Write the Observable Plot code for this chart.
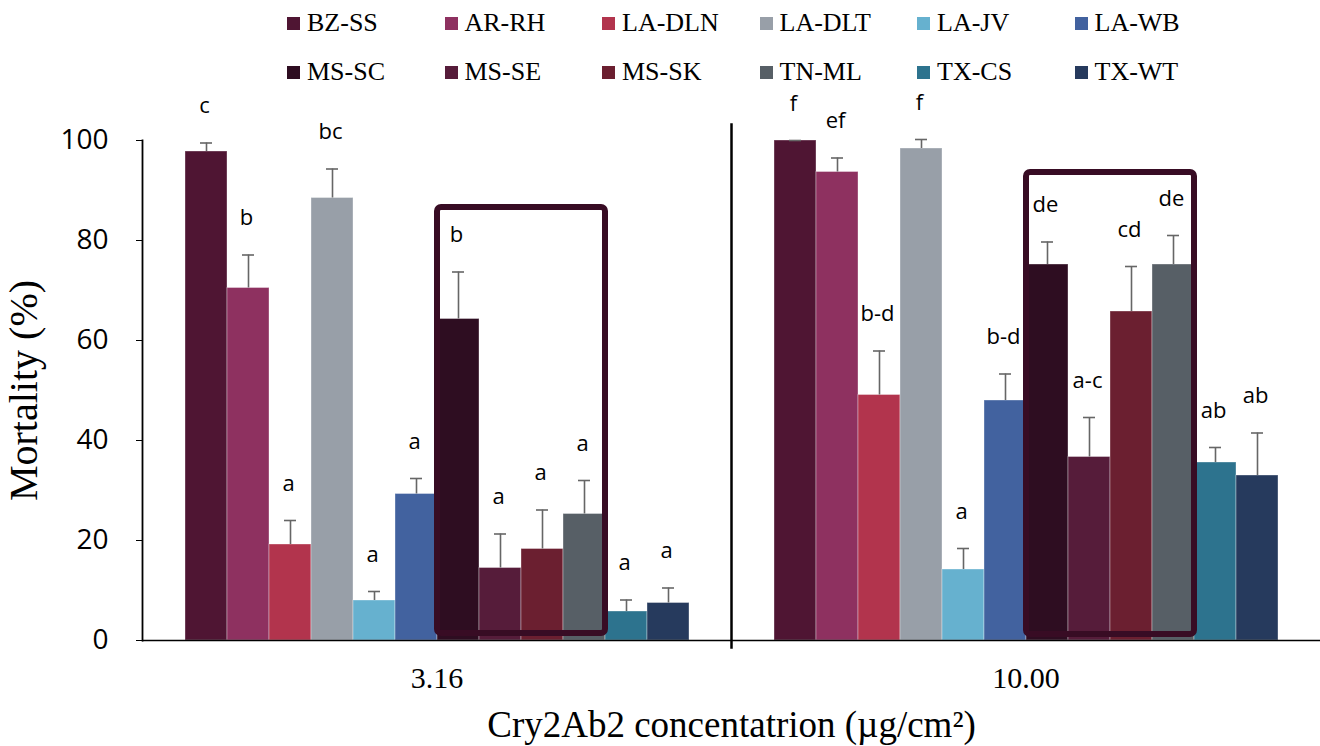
<!DOCTYPE html>
<html>
<head>
<meta charset="utf-8">
<script src="https://cdn.jsdelivr.net/npm/d3@7"></script>
<script src="https://cdn.jsdelivr.net/npm/@observablehq/plot@0.6"></script>
<style>
  html, body { margin: 0; padding: 0; background: #fff; overflow: hidden; }
  #legend { position: relative; width: 1320px; height: 100px; font-family: "Liberation Serif", "Times New Roman", serif; font-size: 26px; color: #000; }
  .item { position: absolute; display: flex; align-items: center; height: 30px; white-space: nowrap; }
  .sw { width: 13px; height: 13px; margin-right: 7px; }
  #chart svg { display: block; }
  g[aria-label="y-axis label"] text { font-family: "Liberation Serif", serif; font-size: 40px; }
  g[aria-label="fx-axis label"] text { font-family: "Liberation Serif", serif; font-size: 37px; }
</style>
</head>
<body>
<div id="legend"></div>
<div id="chart"></div>
<script>
// ---- data ----
const groups = ["3.16", "10.00"];
const series = ["BZ-SS", "AR-RH", "LA-DLN", "LA-DLT", "LA-JV", "LA-WB",
                "MS-SC", "MS-SE", "MS-SK", "TN-ML", "TX-CS", "TX-WT"];
const colors = ["#4f1533", "#8e3160", "#b2344d", "#989fa8", "#66b1cf", "#42629f",
                "#2e0d21", "#561c3a", "#6b1f30", "#575f66", "#2d738e", "#263a5d"];
const mortality316 = [97.8, 70.5, 19.2, 88.5, 8.0, 29.3, 64.3, 14.5, 18.3, 25.3, 5.8, 7.5];
const error316     = [1.7, 6.6, 4.8, 5.8, 1.8, 3.1, 9.4, 6.8, 7.8, 6.7, 2.3, 3.0];
const letters316   = ["c", "b", "a", "bc", "a", "a", "b", "a", "a", "a", "a", "a"];
const mortality1000 = [100, 93.7, 49.1, 98.4, 14.2, 48.0, 75.2, 36.7, 65.8, 75.2, 35.6, 33.0];
const error1000     = [0, 2.8, 8.8, 1.8, 4.2, 5.3, 4.5, 7.9, 9.0, 5.8, 3.0, 8.5];
const letters1000   = ["f", "ef", "b-d", "f", "a", "b-d", "de", "a-c", "cd", "de", "ab", "ab"];
const yTicks = [0, 20, 40, 60, 80, 100];
const highlightFrom = "MS-SC";
const highlightTo = "TN-ML";
const highlightTop = [86.6, 93.6];
const highlightBottom = [1.4, 1.2];
const yLabel = "Mortality (%)";
const xLabel = "Cry2Ab2 concentatrion (µg/cm²)";

// ---- table ----
const values = [mortality316, mortality1000];
const errors = [error316, error1000];
const letters = [letters316, letters1000];
const rows = [];
groups.forEach((g, gi) => series.forEach((s, si) => rows.push({
  g, s, v: values[gi][si], top: values[gi][si] + errors[gi][si], letter: letters[gi][si]
})));
const boxes = groups.map((g, gi) => ({g, from: highlightFrom, to: highlightTo, y1: highlightBottom[gi], y2: highlightTop[gi]}));

// ---- legend ----
const legend = document.getElementById("legend");
series.forEach((s, i) => {
  const col = i % 6, row = Math.floor(i / 6);
  const d = document.createElement("div");
  d.className = "item";
  d.style.left = (287 + col * 157.5) + "px";
  d.style.top = (8 + row * 49) + "px";
  d.innerHTML = `<span class="sw" style="background:${colors[i]}"></span><span>${s}</span>`;
  legend.appendChild(d);
});

// ---- chart ----
const chart = Plot.plot({
  width: 1320,
  height: 646,
  marginTop: 40,
  marginBottom: 106,
  marginLeft: 142,
  marginRight: 0,
  style: {background: "#fff", overflow: "visible"},
  fx: {domain: groups, padding: 0},
  x: {domain: series, paddingInner: 0, paddingOuter: 0.946, axis: null},
  y: {domain: [0, 100]},
  color: {domain: series, range: colors},
  marks: [
    Plot.barY(rows, {fx: "g", x: "s", y: "v", fill: "s", stroke: "#fff", strokeOpacity: 0.35, strokeWidth: 1}),
    Plot.ruleX(rows, {fx: "g", x: "s", y1: "v", y2: "top", stroke: "#666", strokeWidth: 1.6}),
    Plot.tickY(rows, {fx: "g", x: "s", y: "top", stroke: "#666", strokeWidth: 1.6, insetLeft: 15, insetRight: 15}),
    Plot.text(rows, {fx: "g", x: "s", y: "top", text: "letter", dy: -30, dx: -2, lineAnchor: "bottom",
                     fontFamily: "Open Sans", fontSize: 22, fill: "#000"}),
    Plot.rect(boxes, {fx: "g", x1: "from", x2: "to", y1: "y1", y2: "y2", fill: "none",
                      stroke: "#380c24", strokeWidth: 6, rx: 4}),
    Plot.ruleY([0], {stroke: "#000", strokeWidth: 1.5}),
    Plot.frame({anchor: "left", fx: () => "3.16", stroke: "#000", strokeWidth: 1.8}),
    Plot.frame({anchor: "left", fx: () => "10.00", stroke: "#000", strokeWidth: 2.5, insetTop: -16, insetBottom: -7}),
    Plot.axisY({anchor: "left", ticks: yTicks, tickSize: 6, tickPadding: 28, tickFormat: d3.format("d"),
                fontFamily: "Open Sans", fontSize: 28, stroke: "#000", fill: "#000",
                label: yLabel, labelAnchor: "center", labelArrow: "none", labelOffset: 134}),
    Plot.axisFx({anchor: "bottom", tickSize: 0, tickPadding: 26, fontFamily: "Liberation Serif", fontSize: 30, fill: "#000",
                 label: xLabel, labelAnchor: "center", labelArrow: "none", labelOffset: 96})
  ]
});
document.getElementById("chart").appendChild(chart);
</script>
</body>
</html>
